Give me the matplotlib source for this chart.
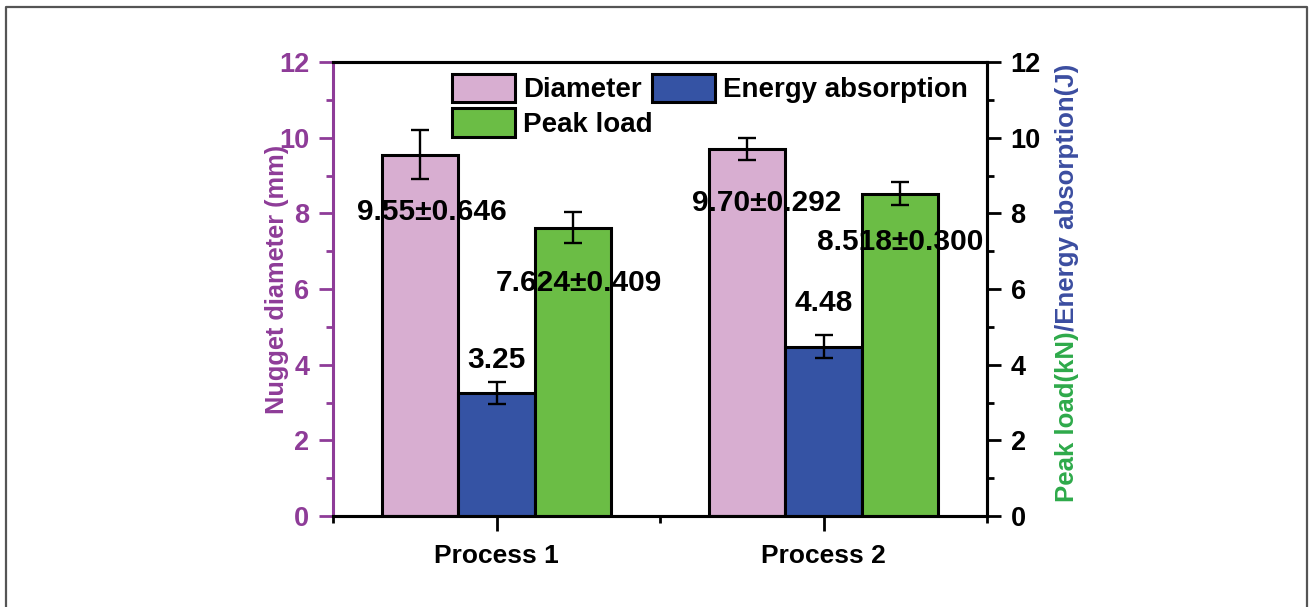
import numpy as np
import matplotlib
matplotlib.use('Agg')
import matplotlib.pyplot as plt
from matplotlib.patches import Patch
from matplotlib.lines import Line2D
from matplotlib.ticker import MultipleLocator, FixedLocator

plt.rcParams['font.family'] = ['Liberation Sans', 'DejaVu Sans']
plt.rcParams['font.weight'] = 'bold'
plt.rcParams['font.size'] = 18

# data
processes = ['Process 1', 'Process 2']
diameter = [9.55, 9.70]
diameter_err = [0.646, 0.292]
energy = [3.25, 4.48]
energy_err = [0.30, 0.30]
peak_load = [7.624, 8.518]
peak_load_err = [0.409, 0.300]
diameter_txt = ['9.55\u00b10.646', '9.70\u00b10.292']
energy_txt = ['3.25', '4.48']
peak_txt = ['7.624\u00b10.409', '8.518\u00b10.300']

# label placement (layout)
diameter_lbl_y = [8.04, 8.27]
energy_lbl_y = [4.12, 5.63]
peak_lbl_y = [6.16, 7.24]
diameter_lbl_dx = [0.034, 0.06]
peak_lbl_dx = [0.02, 0.0]

purple = '#8E3C98'
c_diam = '#D8AED1'
c_energy = '#3553A4'
c_peak = '#6BBD45'
lbl_green = '#2EAA4A'
lbl_blue = '#3B4DA0'

fig = plt.figure(figsize=(13.09, 6.07), dpi=100)
ax = fig.add_axes([333 / 1309, 1 - 516 / 607, 654 / 1309, 454 / 607])
ax2 = ax.twinx()

x = np.arange(1, len(processes) + 1)
w = 0.233
ekw = dict(ecolor='black', elinewidth=1.7, capsize=6.3, capthick=1.7)
bar_kw = dict(edgecolor='black', linewidth=2.2, zorder=2)

ax.bar(x - w, diameter, w, color=c_diam, yerr=diameter_err, error_kw=ekw, **bar_kw)
ax2.bar(x, energy, w, color=c_energy, yerr=energy_err, error_kw=ekw, **bar_kw)
ax2.bar(x + w, peak_load, w, color=c_peak, yerr=peak_load_err, error_kw=ekw, **bar_kw)

vfs = 21.5
for i in range(len(processes)):
    ax2.text(x[i] - w + diameter_lbl_dx[i], diameter_lbl_y[i], diameter_txt[i],
             ha='center', va='center', fontsize=vfs, fontweight='bold', zorder=5)
    ax2.text(x[i], energy_lbl_y[i], energy_txt[i],
             ha='center', va='center', fontsize=vfs, fontweight='bold', zorder=5)
    ax2.text(x[i] + w + peak_lbl_dx[i], peak_lbl_y[i], peak_txt[i],
             ha='center', va='center', fontsize=vfs, fontweight='bold', zorder=5)

for a in (ax, ax2):
    a.set_ylim(0, 12)
    a.yaxis.set_major_locator(MultipleLocator(2))
    a.yaxis.set_minor_locator(MultipleLocator(1))
ax.set_xlim(0.5, 2.5)
ax.set_xticks(x)
ax.set_xticklabels(processes)
ax.xaxis.set_minor_locator(FixedLocator([0.5, 1.5, 2.5]))

for a in (ax, ax2):
    for s in a.spines.values():
        s.set_linewidth(2.2)
ax.spines['left'].set_color(purple)
ax2.spines['left'].set_visible(False)

tfs = 19.5
ax.tick_params(axis='y', which='both', direction='out', colors=purple, width=2, pad=7, labelsize=tfs)
ax.tick_params(axis='y', which='major', length=10)
ax.tick_params(axis='y', which='minor', length=5)
ax.tick_params(axis='x', which='both', direction='out', width=2, pad=9, labelsize=19)
ax.tick_params(axis='x', which='major', length=11)
ax.tick_params(axis='x', which='minor', length=5)
ax2.tick_params(axis='y', which='both', direction='out', colors='black', width=2, pad=7, labelsize=tfs)
ax2.tick_params(axis='y', which='major', length=10)
ax2.tick_params(axis='y', which='minor', length=5)
for lab in ax.get_yticklabels() + ax2.get_yticklabels() + ax.get_xticklabels():
    lab.set_fontweight('bold')

ax.text(-0.0856, 0.52, 'Nugget diameter (mm)', color=purple, fontsize=18.3, fontweight='bold',
        rotation=90, ha='center', va='center', transform=ax.transAxes)

t1 = ax2.text(1.122, 0.031, 'Peak load(kN)', color=lbl_green, rotation=90,
              ha='center', va='bottom', transform=ax2.transAxes, fontsize=18.6, fontweight='bold')
ax2.annotate('/Energy absorption(J)', xy=(0.5, 1.0), xycoords=t1, color=lbl_blue,
             rotation=90, ha='center', va='bottom', fontsize=18.6, fontweight='bold',
             annotation_clip=False)

handles = [Patch(facecolor=c_diam, edgecolor='black', linewidth=2.2, label='Diameter'),
           Patch(facecolor=c_peak, edgecolor='black', linewidth=2.2, label='Peak load'),
           Patch(facecolor=c_energy, edgecolor='black', linewidth=2.2, label='Energy absorption')]
leg = ax2.legend(handles=handles, ncol=2, loc='upper left', bbox_to_anchor=(0.182, 0.974),
                 frameon=False, borderpad=0, borderaxespad=0, handlelength=2.25,
                 handleheight=1.2, handletextpad=0.3, columnspacing=0.0,
                 labelspacing=0.18, prop={'weight': 'bold', 'size': 20})
leg.set_zorder(6)

# outer frame (left, top, right)
fx = [6 / 1309, 6 / 1309, 1307 / 1309, 1307 / 1309]
fy = [0, 1 - 7 / 607, 1 - 7 / 607, 0]
fig.add_artist(Line2D(fx, fy, color='#555555', linewidth=1.6, transform=fig.transFigure))

fig.savefig('out.png', dpi=100, facecolor='white')
